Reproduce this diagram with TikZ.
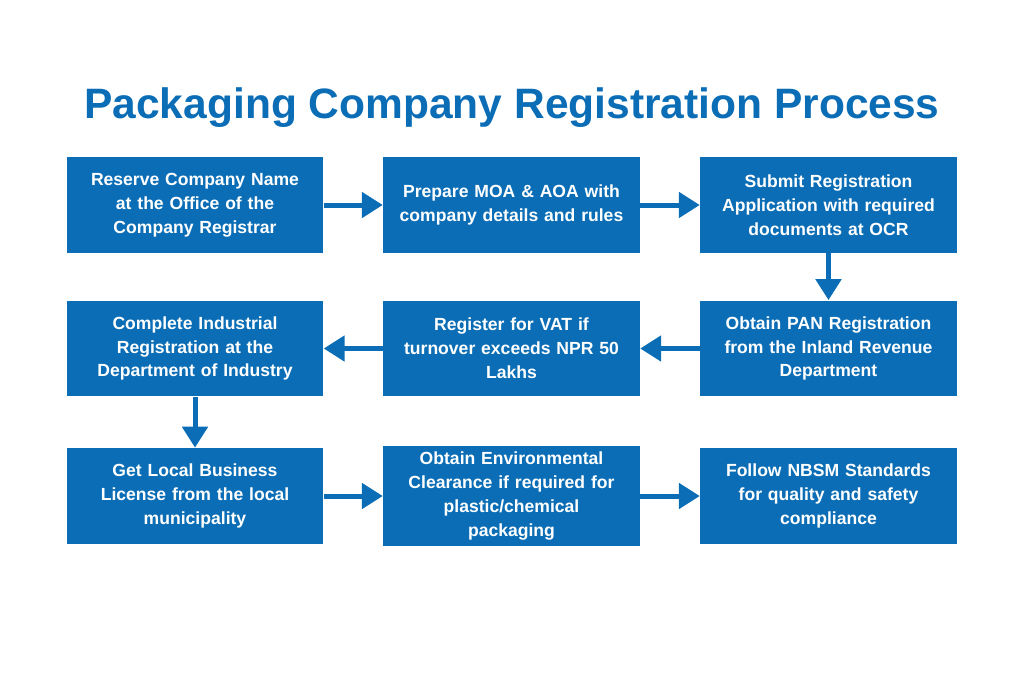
\documentclass[tikz,border=0pt]{standalone}
\usepackage{fontspec}
\setmainfont{Liberation Sans}
\usetikzlibrary{arrows.meta,positioning}
\definecolor{stepblue}{HTML}{0A6DB5}

\begin{document}
\begin{tikzpicture}[x=0.02cm,y=-0.02cm,>={Triangle[length=0.42cm,width=0.5cm]},
	stepbox/.style={draw=none,fill=stepblue,text=white,minimum width=5.04cm,minimum height=1.92cm,
		text width=4.9cm,align=center,font=\bfseries\fontsize{10}{13.6}\selectfont},
	flow/.style={->,stepblue,line width=0.1cm}]
	\useasboundingbox (0,0) rectangle (1024,683);
	\node[text=stepblue,font=\bfseries\fontsize{24.2}{28}\selectfont] (title) at (512,108) {Packaging Company Registration Process};
	\node[stepbox] (s_1) at (195,205) {Reserve Company Name\\at the Office of the\\Company Registrar};
	\node[stepbox] (s_2) at (511.5,205) {Prepare MOA \& AOA with\\company details and rules};
	\node[stepbox] (s_3) at (828.5,205) {Submit Registration\\Application with required\\documents at OCR};
	\node[stepbox] (s_4) at (828.5,348.5) {Obtain PAN Registration\\from the Inland Revenue\\Department};
	\node[stepbox] (s_5) at (511.5,348.5) {Register for VAT if\\turnover exceeds NPR 50\\Lakhs};
	\node[stepbox] (s_6) at (195,348.5) {Complete Industrial\\Registration at the\\Department of Industry};
	\node[stepbox] (s_7) at (195,496) {Get Local Business\\License from the local\\municipality};
	\node[stepbox] (s_8) at (511.5,496) {Obtain Environmental\\Clearance if required for\\plastic/chemical\\packaging};
	\node[stepbox] (s_9) at (828.5,496) {Follow NBSM Standards\\for quality and safety\\compliance};
	\draw[flow] (s_1) -- (s_2);
	\draw[flow] (s_2) -- (s_3);
	\draw[flow] (s_3) -- (s_4);
	\draw[flow] (s_4) -- (s_5);
	\draw[flow] (s_5) -- (s_6);
	\draw[flow] (s_6) -- (s_7);
	\draw[flow] (s_7) -- (s_8);
	\draw[flow] (s_8) -- (s_9);
\end{tikzpicture}
\end{document}
